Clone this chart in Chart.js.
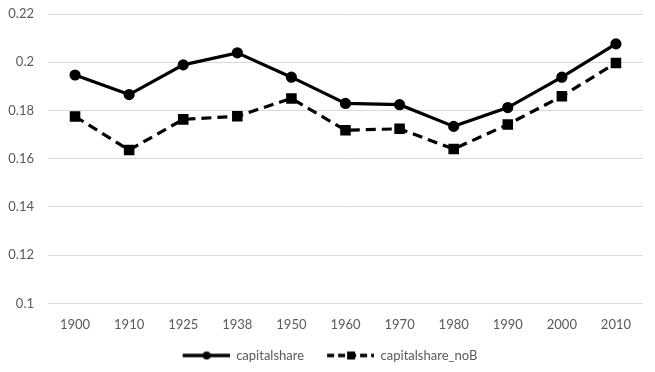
<!DOCTYPE html>
<html>
<head>
<meta charset="utf-8">
<script src="https://cdn.jsdelivr.net/npm/chart.js@4"></script>
<style>
  html, body { margin: 0; padding: 0; background: #fff; }
  #wrap { width: 655px; height: 372px; }
</style>
</head>
<body>
<div id="wrap"><canvas id="chart"></canvas></div>
<script>
// chart data
const years = ['1900', '1910', '1925', '1938', '1950', '1960', '1970', '1980', '1990', '2000', '2010'];
const capitalshare = [0.1947, 0.1866, 0.1989, 0.2039, 0.1938, 0.1829, 0.1824, 0.1734, 0.1812, 0.1938, 0.2076];
const capitalshareNoB = [0.1775, 0.1636, 0.1763, 0.1776, 0.1850, 0.1718, 0.1724, 0.1640, 0.1742, 0.1859, 0.1997];
const yTicks = [0.1, 0.12, 0.14, 0.16, 0.18, 0.2, 0.22];

// legend pictures: line with a marker in the middle, with empty room on the left
// so the two entries sit further apart
function legendIcon(dashed, square) {
    const c = document.createElement('canvas');
    c.width = 60; c.height = 12;
    const g = c.getContext('2d');
    g.strokeStyle = '#000';
    g.fillStyle = '#000';
    g.lineWidth = 3.5;
    if (dashed) g.setLineDash([7, 4]);
    g.beginPath();
    g.moveTo(13, 6); g.lineTo(60, 6);
    g.stroke();
    if (square) {
        g.fillRect(33, 2, 8, 8);
    } else {
        g.beginPath();
        g.arc(37, 6, 4, 0, Math.PI * 2);
        g.fill();
    }
    return c;
}

const icons = [legendIcon(false, false), legendIcon(true, true)];

const ctx = document.getElementById('chart').getContext('2d');
new Chart(ctx, {
    type: 'line',
    data: {
        labels: years,
        datasets: [{
            label: 'capitalshare',
            data: capitalshare,
            borderColor: '#000',
            backgroundColor: '#000',
            borderWidth: 3.2,
            pointStyle: 'circle',
            pointRadius: 4,
            pointHoverRadius: 4,
            tension: 0
        }, {
            label: 'capitalshare_noB',
            data: capitalshareNoB,
            borderColor: '#000',
            backgroundColor: '#000',
            borderWidth: 3.2,
            borderDash: [10, 6],
            pointStyle: 'rect',
            pointRadius: 5.2,
            pointHoverRadius: 5.2,
            tension: 0
        }]
    },
    options: {
        responsive: true,
        maintainAspectRatio: false,
        animation: false,
        layout: { padding: { top: 14, right: 12, left: 4, bottom: 0 } },
        scales: {
            x: {
                offset: true,
                grid: { display: false },
                border: { display: false },
                ticks: {
                    color: '#595959',
                    font: { family: 'Lato', size: 13 },
                    padding: 6,
                    maxRotation: 0
                }
            },
            y: {
                min: 0.1,
                max: 0.22,
                afterBuildTicks: axis => { axis.ticks = yTicks.map(v => ({ value: v })); },
                afterFit: axis => {
                    // fixed label column, and no extra room above/below the plot
                    axis.width = 44;
                    axis.paddingTop = 0;
                    axis.paddingBottom = 0;
                },
                grid: { color: '#d9d9d9', lineWidth: 1, drawTicks: false },
                border: { display: false },
                ticks: {
                    color: '#595959',
                    font: { family: 'Lato', size: 13 },
                    padding: 14,
                    callback: v => String(Math.round(v * 100) / 100)
                }
            }
        },
        plugins: {
            tooltip: { enabled: false },
            legend: {
                position: 'bottom',
                labels: {
                    usePointStyle: true,
                    pointStyleWidth: 60,
                    boxHeight: 12,
                    padding: 10,
                    color: '#595959',
                    font: { family: 'Lato', size: 13 },
                    generateLabels: chart => chart.data.datasets.map((ds, i) => ({
                        text: ds.label,
                        pointStyle: icons[i],
                        fillStyle: '#000',
                        strokeStyle: '#000',
                        lineWidth: 0,
                        fontColor: '#595959',
                        datasetIndex: i
                    }))
                }
            }
        }
    }
});
</script>
</body>
</html>
